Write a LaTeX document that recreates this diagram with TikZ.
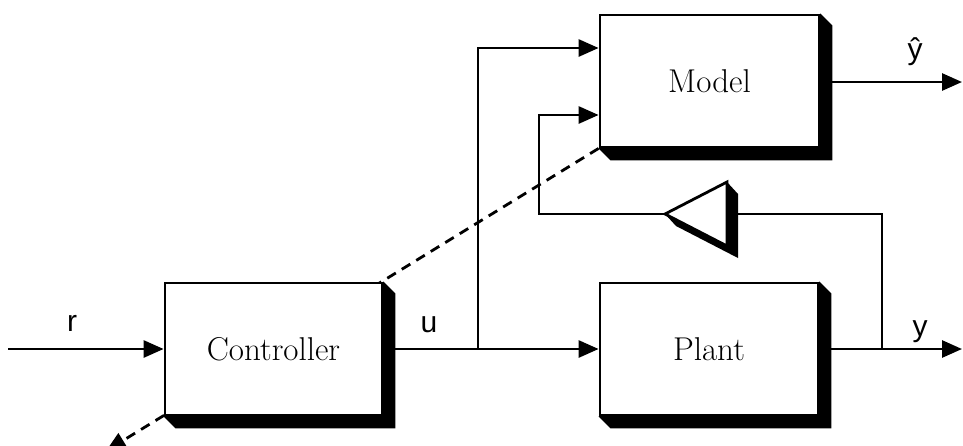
\documentclass[tikz,border=0pt]{standalone}
\usepackage{fontspec}
\setsansfont{Liberation Sans}
\usetikzlibrary{arrows.meta,backgrounds}
\begin{document}
\begin{tikzpicture}[x=1pt,y=-1pt,
  blk/.style={draw,line width=2.8pt,fill=white,minimum width=217pt,
    minimum height=132pt,inner sep=0pt,font=\fontsize{33}{40}\selectfont},
  wire/.style={line width=2.8pt},
  sig/.style={wire,-{Triangle[length=20pt,width=17pt]}},
  lbl/.style={font=\sffamily\fontsize{30}{36}\selectfont,anchor=base,inner sep=0pt}]
\useasboundingbox (0,0) rectangle (963,445);

% blocks
\node[blk] (ctrl)  at (273.5,349) {Controller};
\node[blk,minimum width=219pt] (model) at (709.5,81) {Model};
\node[blk,minimum width=218pt] (plant) at (709,349) {Plant};

% gain triangle (points left)
\coordinate (gtip) at (665,214);
\coordinate (gtop) at (727,182);
\coordinate (gbot) at (727,246);
\coordinate (gin)  at (727,214);

% free ends and branch points
\coordinate (rin)  at (8,349);
\coordinate (ubr)  at (478,349);
\coordinate (ybr)  at (882,349);
\coordinate (yout) at (962,349);
\coordinate (yhout) at (962,82);
\coordinate (fbc)  at (539,214);
\coordinate (darr) at (106,451);

% drop shadows and the dashed tuning line behind the blocks
\begin{scope}[on background layer]
  \foreach \b in {ctrl,model,plant}{
    \fill (\b.north east) -- ++(12,12) -- ([shift={(12pt,-12pt)}]\b.south east)
      -- ([shift={(12pt,-12pt)}]\b.south west) -- (\b.south west) -- cycle;
  }
  \draw[wire,dash pattern=on 10pt off 7pt,-{Triangle[length=20pt,width=17pt]}]
    (model.south west) -- (darr);
\end{scope}

% gain shadow and body
\fill (gtip) -- (gtop) -- ++(11,12) -- ([shift={(11pt,-12pt)}]gbot)
  -- ([shift={(11pt,-12pt)}]gtip) -- cycle;
\draw[wire,fill=white,line join=miter] (gtip) -- (gtop) -- (gbot) -- cycle;

% signal connectors
\draw[sig] (rin) -- (ctrl.west);
\draw[sig] (ctrl.east) -- (plant.west);
\draw[sig] (ubr) |- ([yshift=33pt]model.west);
\draw[sig] (plant.east) -- (yout);
\draw[sig] (model.east |- yhout) -- (yhout);
\draw[wire] (ybr) |- (gin);
\draw[sig] (gtip) -- (fbc) |- ([yshift=-34pt]model.west);

% signal labels
\node[lbl] (rlab)  at (72,331) {r};
\node[lbl] (ulab)  at (429,332) {u};
\node[lbl] (ylab)  at (920,336) {y};
\node[lbl] (yhlab) at (915,59) {ŷ};
\end{tikzpicture}
\end{document}
